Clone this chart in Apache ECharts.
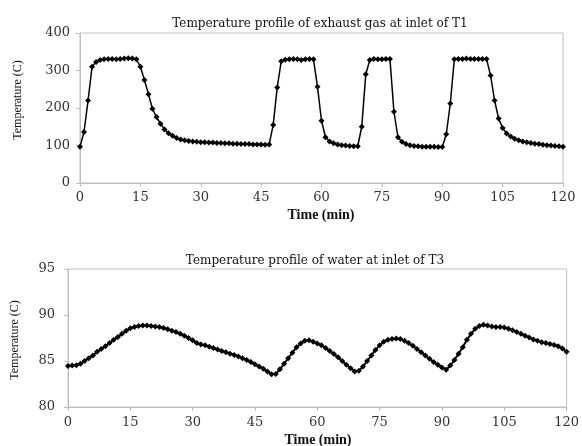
<!DOCTYPE html>
<html>
<head>
<meta charset="utf-8">
<script src="https://cdn.jsdelivr.net/npm/echarts@6/dist/echarts.min.js"></script>
<style>
html,body{margin:0;padding:0;background:#fff;}
#chart{width:582px;height:446px;}
</style>
</head>
<body>
<div id="chart"></div>
<script>
// Top chart: exhaust gas temperature at inlet of T1, one value per minute (0..120)
const exhaustGasT1 = [
  97, 136, 220, 310, 323, 328, 330, 331, 331, 330,
  331, 332, 333, 332, 330, 310, 275, 237, 198, 176,
  158, 143, 133, 126, 120, 116, 114, 112, 111, 110,
  109, 109, 108, 108, 107, 107, 106, 106, 105, 105,
  104, 104, 104, 103, 103, 103, 102, 103, 155, 255,
  325, 329, 330, 331, 330, 328, 330, 331, 330, 257,
  166, 122, 111, 106, 103, 101, 100, 99, 98, 98,
  150, 290, 328, 331, 330, 330, 331, 331, 190, 122,
  110, 104, 101, 99, 98, 97, 97, 97, 97, 96,
  96, 130, 212, 330, 331, 331, 332, 331, 331, 331,
  331, 331, 287, 220, 172, 147, 132, 124, 118, 114,
  111, 109, 107, 105, 104, 102, 101, 100, 99, 98,
  97
];
// Bottom chart: water temperature at inlet of T3, one value per minute (0..120)
const waterT3 = [
  84.45, 84.5, 84.55, 84.7, 85.0, 85.3, 85.6, 86.0, 86.3, 86.6,
  86.95, 87.3, 87.6, 87.95, 88.3, 88.55, 88.7, 88.8, 88.85, 88.85,
  88.8, 88.75, 88.7, 88.6, 88.45, 88.3, 88.15, 87.95, 87.75, 87.5,
  87.25, 86.95, 86.8, 86.7, 86.55, 86.4, 86.25, 86.1, 85.95, 85.8,
  85.65, 85.5, 85.3, 85.1, 84.9, 84.65, 84.4, 84.15, 83.85, 83.55,
  83.6, 84.1, 84.7, 85.3, 85.9, 86.5, 86.9, 87.2, 87.25, 87.1,
  86.9, 86.7, 86.4, 86.1, 85.75, 85.4, 85.0, 84.6, 84.2, 83.85,
  83.95, 84.4, 85.0, 85.6, 86.2, 86.7, 87.1, 87.3, 87.4, 87.45,
  87.4, 87.2, 86.95, 86.65, 86.3, 85.95, 85.6, 85.25, 84.9, 84.6,
  84.3, 84.05, 84.5, 85.1, 85.8, 86.5, 87.3, 87.95, 88.5, 88.8,
  88.95, 88.85, 88.75, 88.7, 88.7, 88.65, 88.5, 88.35, 88.15, 87.95,
  87.75, 87.55, 87.35, 87.2, 87.05, 86.95, 86.85, 86.75, 86.6, 86.35,
  86.0
];
const xTicks = [0, 15, 30, 45, 60, 75, 90, 105, 120];
const topYTicks = [0, 100, 200, 300, 400];
const bottomYTicks = [80, 85, 90, 95];
const titleTop = 'Temperature profile of exhaust gas at inlet of T1';
const titleBottom = 'Temperature profile of water at inlet of T3';
const xName = 'Time (min)';
const yName = 'Temperature (C)';

const FONT = '"Liberation Serif", "DejaVu Serif", serif';
const WIDE = '"DejaVu Serif", "Liberation Serif", serif';
const GRAY = '#c0c0c0';

function pairs(arr){ return arr.map((v,i)=>[i, v]); }

function xAxisDef(gridIndex){
  return {
    type:'value', gridIndex, min:xTicks[0], max:xTicks[xTicks.length-1], interval:xTicks[1]-xTicks[0],
    axisLine:{show:true, lineStyle:{color:GRAY, width:1}},
    axisTick:{show:true, length:4, lineStyle:{color:GRAY}},
    splitLine:{show:false},
    axisLabel:{color:'#333', fontFamily:WIDE, fontSize:13, margin:gridIndex===0?8:9}
  };
}
function yAxisDef(gridIndex, ticks){
  return {
    type:'value', gridIndex, min:ticks[0], max:ticks[ticks.length-1], interval:ticks[1]-ticks[0],
    axisLine:{show:true, lineStyle:{color:GRAY, width:1}},
    axisTick:{show:true, length:4, lineStyle:{color:GRAY}},
    splitLine:{show:false},
    axisLabel:{color:'#333', fontFamily:WIDE, fontSize:13, margin:gridIndex===0?10:13}
  };
}

const chart = echarts.init(document.getElementById('chart'), null, {renderer:'canvas'});
chart.setOption({
  backgroundColor:'#fff',
  animation:false,
  title:[
    {text:titleTop, left:315, top:13, textAlign:'center',
     textStyle:{fontFamily:WIDE, fontSize:12, fontWeight:'normal', color:'#111'}},
    {text:titleBottom, left:310, top:250, textAlign:'center',
     textStyle:{fontFamily:WIDE, fontSize:12, fontWeight:'normal', color:'#111'}}
  ],
  grid:[
    {left:80, right:19, top:33, height:150, show:true, borderColor:GRAY, borderWidth:1, backgroundColor:'transparent'},
    {left:68, right:13, top:269, height:138, show:true, borderColor:GRAY, borderWidth:1, backgroundColor:'transparent'}
  ],
  xAxis:[xAxisDef(0), xAxisDef(1)],
  yAxis:[yAxisDef(0, topYTicks), yAxisDef(1, bottomYTicks)],
  graphic:[
    {type:'text', x:321, y:215, style:{text:xName, font:'bold 14px '+FONT, fill:'#111', textAlign:'center', textVerticalAlign:'middle'}},
    {type:'text', x:318, y:440, style:{text:xName, font:'bold 14px '+FONT, fill:'#111', textAlign:'center', textVerticalAlign:'middle'}},
    {type:'text', x:18, y:100, rotation:Math.PI/2, style:{text:yName, font:'12px '+FONT, fill:'#111', textAlign:'center', textVerticalAlign:'middle'}},
    {type:'text', x:15, y:340, rotation:Math.PI/2, style:{text:yName, font:'12px '+FONT, fill:'#111', textAlign:'center', textVerticalAlign:'middle'}}
  ],
  series:[
    {type:'line', xAxisIndex:0, yAxisIndex:0, data:pairs(exhaustGasT1),
     symbol:'diamond', symbolSize:6, showSymbol:true,
     lineStyle:{color:'#000', width:1.5}, itemStyle:{color:'#000'}},
    {type:'line', xAxisIndex:1, yAxisIndex:1, data:pairs(waterT3),
     symbol:'diamond', symbolSize:6, showSymbol:true,
     lineStyle:{color:'#000', width:2}, itemStyle:{color:'#000'}}
  ]
});
</script>
</body>
</html>
